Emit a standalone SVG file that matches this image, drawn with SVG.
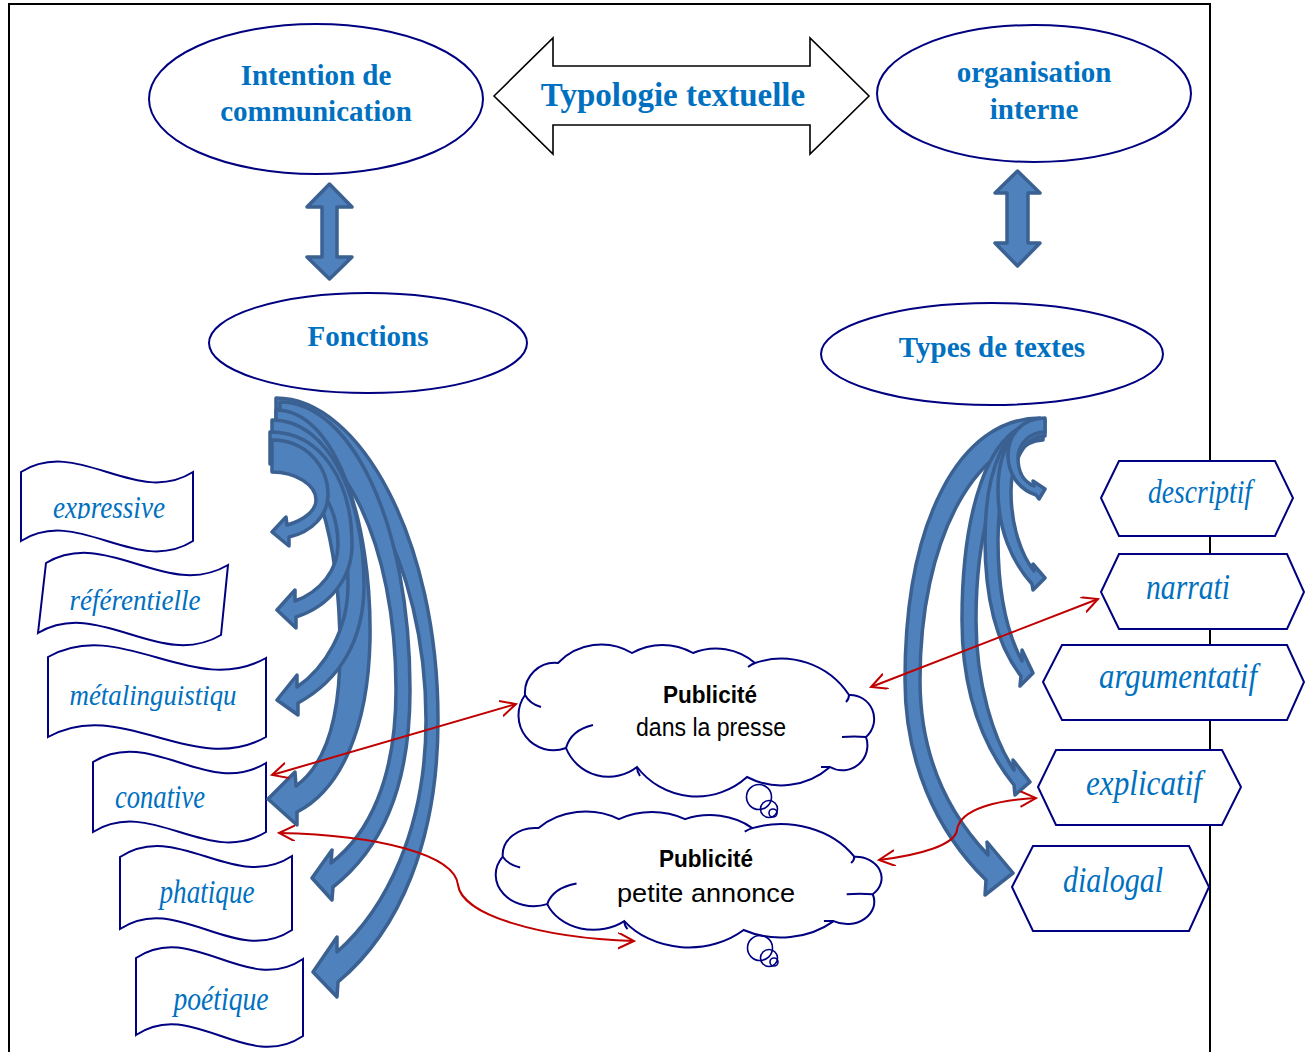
<svg xmlns="http://www.w3.org/2000/svg" width="1314" height="1052" viewBox="0 0 1314 1052">
<style>
.ell{fill:#fff;stroke:#000080;stroke-width:2}
.ttl{font-family:"Liberation Serif","Times New Roman",serif;font-weight:bold;font-size:29px;fill:#0070C0;text-anchor:middle}
.lbl{font-family:"Liberation Serif","Times New Roman",serif;font-style:italic;fill:#0070C0;text-anchor:middle}
.box{fill:#fff;stroke:#000080;stroke-width:2;stroke-linejoin:miter}
.ba{fill:#4F81BD;stroke:#3A6191;stroke-width:3.5;stroke-linejoin:round}
.red{fill:none;stroke:#C00000;stroke-width:2;marker-start:url(#rh);marker-end:url(#rh)}
.cloud{fill:#fff;stroke:#000080;stroke-width:2;vector-effect:non-scaling-stroke}
.tail{fill:none;stroke:#000080;stroke-width:2;vector-effect:non-scaling-stroke}
.bub{fill:none;stroke:#000080;stroke-width:1.6}
.ct{font-family:"Liberation Sans",Arial,sans-serif;fill:#000;text-anchor:middle}
</style>
<defs>
<marker id="rh" markerUnits="userSpaceOnUse" markerWidth="18" markerHeight="18" viewBox="0 0 18 18" refX="16" refY="8" orient="auto-start-reverse">
<path d="M0,0 L16,8 L0,16" fill="none" stroke="#C00000" stroke-width="2"/>
</marker>
<clipPath id="clipExp"><rect x="15" y="430" width="190" height="89"/></clipPath>
<g id="cloudShape">
<path class="cloud" d="M9,50 A30,30 0 0 1 42,18 A60,60 0 0 1 116,8 A62,62 0 0 1 177,8 A60,60 0 0 1 239,18 A81,81 0 0 1 333,50 A24,24 0 0 1 350,92 A25,25 0 0 1 314,122 A74,74 0 0 1 231,132 A75,75 0 0 1 121,122 A46,46 0 0 1 50,103 A35,35 0 0 1 9,50 Z"/>
<path class="tail" d="M9,50 Q14,59 25,62 M50,103 Q55,85 77,80 M121,122 Q121,127 124,131 M314,122 Q310,122 305,122 M350,92 Q338,91 326,92 M333,50 Q333,54 330,57 M239,18 Q236,19 232,22"/>
</g>
</defs>
<rect width="1314" height="1052" fill="#fff"/>
<g id="frame"><path d="M9,1052 V4 H1210 V1052" fill="none" stroke="#000" stroke-width="2"/></g>

<g id="typologie">
<polygon points="494,96 553,38 553,66 810,66 810,38 869,96 810,154 810,125 553,125 553,154" fill="#fff" stroke="#000" stroke-width="1.6"/>
<text class="ttl" x="673" y="106" style="font-size:33px">Typologie textuelle</text>
</g>
<g id="intention">
<ellipse class="ell" cx="316" cy="99" rx="167" ry="75"/>
<text class="ttl" x="316" y="85">Intention de</text>
<text class="ttl" x="316" y="121">communication</text>
</g>
<g id="organisation">
<ellipse class="ell" cx="1034" cy="93.5" rx="157" ry="68.5"/>
<text class="ttl" x="1034" y="82">organisation</text>
<text class="ttl" x="1034" y="119">interne</text>
</g>
<g id="fonctions">
<ellipse class="ell" cx="368" cy="343" rx="159" ry="50"/>
<text class="ttl" x="368" y="346">Fonctions</text>
</g>
<g id="types">
<ellipse class="ell" cx="992" cy="354" rx="171" ry="51"/>
<text class="ttl" x="992" y="357">Types de textes</text>
</g>

<g id="expressive">
<path class="box" d="M21,472 C78,436 136,508 193,472 L193,541 C136,577 78,505 21,541 Z"/>
<text class="lbl" x="109" y="518" font-size="31" textLength="112" lengthAdjust="spacingAndGlyphs" clip-path="url(#clipExp)">expressive</text>
</g>
<g id="referentielle">
<path class="box" d="M46,563 C107,527 167,601 228,565 L221,635 C160,671 99,597 38,633 Z"/>
<text class="lbl" x="135" y="610" font-size="29" textLength="131" lengthAdjust="spacingAndGlyphs">référentielle</text>
</g>
<g id="metalinguistique">
<path class="box" d="M48,657 C121,616 193,699 266,658 L266,737 C193,778 121,696 48,737 Z"/>
<text class="lbl" x="153" y="705" font-size="29" textLength="167" lengthAdjust="spacingAndGlyphs">métalinguistiqu</text>
</g>
<g id="conative">
<path class="box" d="M93,762 C151,726 208,799 266,763 L266,832 C208,868 151,796 93,832 Z"/>
<text class="lbl" x="160" y="808" font-size="33" textLength="90" lengthAdjust="spacingAndGlyphs">conative</text>
</g>
<g id="phatique">
<path class="box" d="M120,857 C177,819 235,894 292,856 L292,930 C235,968 177,891 120,929 Z"/>
<text class="lbl" x="207" y="903" font-size="33" textLength="95" lengthAdjust="spacingAndGlyphs">phatique</text>
</g>
<g id="poetique">
<path class="box" d="M136,958 C192,920 247,997 303,959 L303,1036 C247,1074 192,997 136,1035 Z"/>
<text class="lbl" x="221" y="1010" font-size="33" textLength="95" lengthAdjust="spacingAndGlyphs">poétique</text>
</g>

<g id="descriptif">
<polygon class="box" points="1101,498 1119,461 1275,461 1293,498 1275,536 1119,536"/>
<text class="lbl" x="1200" y="503" font-size="33" textLength="104" lengthAdjust="spacingAndGlyphs">descriptif</text>
</g>
<g id="narratif">
<polygon class="box" points="1101,592 1119,554 1287,554 1304,592 1287,629 1119,629"/>
<text class="lbl" x="1188" y="599" font-size="36" textLength="84" lengthAdjust="spacingAndGlyphs">narrati</text>
</g>
<g id="argumentatif">
<polygon class="box" points="1043,682 1062,645 1287,645 1304,682 1287,720 1062,720"/>
<text class="lbl" x="1178" y="688" font-size="36" textLength="158" lengthAdjust="spacingAndGlyphs">argumentatif</text>
</g>
<g id="explicatif">
<polygon class="box" points="1038,787 1056,750 1222,750 1241,787 1222,825 1056,825"/>
<text class="lbl" x="1144" y="795" font-size="36" textLength="116" lengthAdjust="spacingAndGlyphs">explicatif</text>
</g>
<g id="dialogal">
<polygon class="box" points="1012,887 1033,846 1189,846 1209,887 1189,931 1033,931"/>
<text class="lbl" x="1113" y="892" font-size="36" textLength="100" lengthAdjust="spacingAndGlyphs">dialogal</text>
</g>

<g id="pub-presse">
<use href="#cloudShape" transform="translate(516,645)"/>
<circle class="bub" cx="759" cy="797" r="12.5"/>
<circle class="bub" cx="769" cy="809" r="8.5"/>
<circle class="bub" cx="773" cy="813" r="4"/>
<text class="ct" x="710" y="703" font-size="23" font-weight="bold" textLength="94" lengthAdjust="spacingAndGlyphs">Publicité</text>
<text class="ct" x="711" y="736" font-size="25" textLength="150" lengthAdjust="spacingAndGlyphs">dans la presse</text>
</g>
<g id="pub-annonce">
<use href="#cloudShape" transform="translate(493,812) scale(1.085,0.894)"/>
<circle class="bub" cx="760" cy="948" r="12.5"/>
<circle class="bub" cx="769" cy="958" r="8.5"/>
<circle class="bub" cx="774" cy="962" r="4"/>
<text class="ct" x="706" y="867" font-size="23" font-weight="bold" textLength="94" lengthAdjust="spacingAndGlyphs">Publicité</text>
<text class="ct" x="706" y="902" font-size="26" textLength="178" lengthAdjust="spacingAndGlyphs">petite annonce</text>
</g>

<g id="connectors">
<polygon class="ba" points="329.5,184 352,207 337,207 337,257 352,257 329.5,279 307,257 322,257 322,207 307,207"/>
<polygon class="ba" points="1017.5,171 1040,193 1028,193 1028,243 1040,243 1017.5,266 995,243 1007,243 1007,193 995,193"/>
<path class="ba" d="M276,398 C360,398 438,540 438,720 C438,840 400,930 338,982 L337,997 L313,972 L337,937 L337,952 C385,910 426,830 426,720 C426,560 350,432 276,432 Z"/>
<path class="ba" d="M280,402 C350,402 410,520 410,690 C410,790 380,850 333,887 L332,900 L312,878 L332,850 L331,863 C368,835 396,780 396,690 C396,540 340,436 280,436 Z"/>
<path class="ba" d="M276,410 C335,410 372,520 370,640 C368,730 340,790 297,812 L297,825 L268,799 L295,772 L296,786 C325,765 340,720 340,650 C340,540 312,445 276,445 Z"/>
<path class="ba" d="M272,420 C330,420 364,500 364,585 C364,640 340,680 298,703 L298,715 L277,700 L297,675 L297,687 C325,668 348,630 348,585 C348,510 314,452 272,452 Z"/>
<path class="ba" d="M270,432 C322,432 352,482 352,545 C352,578 330,606 296,617 L296,628 L277,610 L295,590 L295,601 C320,592 338,570 338,545 C338,497 306,464 270,464 Z"/>
<path class="ba" d="M272,440 C305,440 328,465 328,495 C328,515 312,532 289,537 L289,546 L272,532 L286,517 L287,525 C305,520 316,510 316,500 C316,485 296,472 272,472 Z"/>
<path class="ba" d="M1040,418 C960,418 905,520 905,680 C905,760 935,830 986,880 L985,895 L1013,873 L987,842 L988,855 C950,815 920,760 920,680 C920,540 975,442 1040,440 Z"/>
<path class="ba" d="M1043,422 C985,422 962,520 962,620 C962,690 982,745 1014,785 L1015,795 L1030,782 L1013,760 L1014,770 C994,740 976,685 976,620 C976,530 1000,440 1043,440 Z"/>
<path class="ba" d="M1043,420 C1005,420 985,470 985,540 C985,600 997,645 1021,676 L1020,686 L1033,673 L1022,650 L1022,661 C1008,635 998,595 998,540 C998,480 1015,438 1043,436 Z"/>
<path class="ba" d="M1045,420 C1015,420 998,450 998,490 C998,530 1012,562 1032,584 L1033,590 L1045,578 L1033,564 L1034,571 C1021,555 1011,525 1011,492 C1011,462 1025,436 1045,436 Z"/>
<path class="ba" d="M1045,418 C1022,418 1008,435 1008,455 C1008,475 1020,490 1036,495 L1039,499 L1045,489 L1033,481 L1034,486 C1024,482 1018,472 1018,458 C1018,444 1030,432 1045,432 Z"/>
<path class="red" d="M272,775 L516,704"/>
<path class="red" d="M871,687 L1098,599"/>
<path class="red" d="M279,833 C380,835 455,855 458,885 C462,915 540,938 634,941"/>
<path class="red" d="M879,860 C920,855 955,845 957,830 C960,808 1000,800 1036,798"/>
</g>
</svg>
